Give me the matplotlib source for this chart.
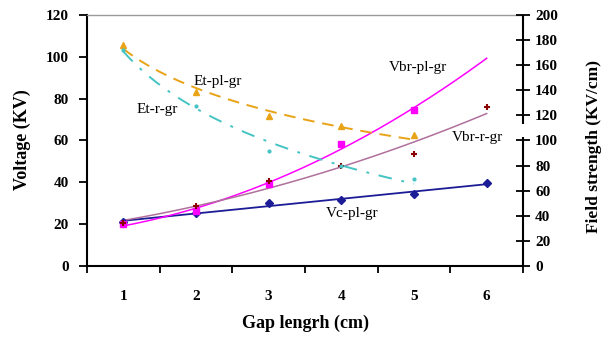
import numpy as np
import matplotlib
matplotlib.use("Agg")
import matplotlib.pyplot as plt

plt.rcParams['font.family'] = ['Liberation Serif', 'DejaVu Serif']

# Gap length categories (cm)
gaps = [1, 2, 3, 4, 5, 6]

# Voltages (kV) - left axis
vc_pl_gr = [21.0, 25.3, 30.3, 31.5, 34.2, 39.9]
vbr_pl_gr = [20.0, 26.3, 39.0, 58.5, 74.6]
vbr_r_gr = [20.7, 28.7, 40.6, 47.8, 53.5, 75.9]

# Field strengths (kV/cm) - right axis
et_pl_gr = [176.0, 138.5, 119.5, 111.6, 104.0]
et_r_gr = [172.0, 127.5, 92.0, 80.0, 69.5]

left_ticks = [0, 20, 40, 60, 80, 100, 120]
right_ticks = [0, 20, 40, 60, 80, 100, 120, 140, 160, 180, 200]

fig = plt.figure(figsize=(6.05, 3.39), dpi=100)
ax = fig.add_axes([0.1438, 0.2153, 0.8645 - 0.1438, 0.9558 - 0.2153])
ax2 = ax.twinx()

navy = '#1c1c96'
magenta = '#ff00ff'
mauve = '#b0709c'
darkred = '#8b0000'
orange = '#e8a317'
cyan = '#45c4c4'

xs6 = np.array(gaps, dtype=float)
xs5 = xs6[:5]
xfit = np.linspace(1, 6, 200)
xfit5 = np.linspace(1, 5, 200)

# Vc-pl-gr: linear trend
c = np.polyfit(xs6, vc_pl_gr, 1)
ax.plot(xfit, np.polyval(c, xfit), color=navy, lw=1.3, zorder=3)
ax.plot(xs6, vc_pl_gr, 'D', color=navy, ms=4, zorder=5)

# Vbr-pl-gr: second-order trend
c = np.polyfit(xs5, vbr_pl_gr, 2)
ax.plot(xfit, np.polyval(c, xfit), color=magenta, lw=1.1, zorder=3)
ax.plot(xs5, vbr_pl_gr, 's', color=magenta, ms=4, zorder=5)

# Vbr-r-gr: second-order trend
c = np.polyfit(xs6, vbr_r_gr, 2)
ax.plot(xfit, np.polyval(c, xfit), color=mauve, lw=1.1, zorder=3)
ax.plot(xs6, vbr_r_gr, '+', color=darkred, ms=5, mew=1.5, zorder=5)

# Et-pl-gr: logarithmic trend
c = np.polyfit(np.log(xs5), et_pl_gr, 1)
ax2.plot(xfit5, np.polyval(c, np.log(xfit5)), color=orange, lw=1.4,
         ls=(0, (6, 4)), zorder=3)
ax2.plot(xs5, et_pl_gr, '^', color=orange, ms=4.5, zorder=5)

# Et-r-gr: logarithmic trend
c = np.polyfit(np.log(xs5), et_r_gr, 1)
ax2.plot(xfit5, np.polyval(c, np.log(xfit5)), color=cyan, lw=1.4,
         ls=(0, (7, 5, 1.5, 5)), zorder=3)
ax2.plot(xs5, et_r_gr, '.', color=cyan, ms=4, zorder=5)

# Axes limits and ticks
ax.set_xlim(0.5, 6.5)
ax.set_ylim(0, 120)
ax2.set_ylim(0, 200)
ax.set_xticks(np.arange(0.5, 7.0, 1.0))
ax.set_xticklabels([])
ax.set_xticks(gaps, minor=True)
ax.set_xticklabels([str(g) for g in gaps], minor=True)
ax.set_yticks(left_ticks)
ax2.set_yticks(right_ticks)

for lab in ax.get_yticklabels() + ax.get_xticklabels(minor=True) + ax2.get_yticklabels():
    lab.set_fontsize(11)
    lab.set_fontweight('bold')

ax.tick_params(axis='x', which='major', direction='out', length=5, width=1.3)
ax.tick_params(axis='x', which='minor', length=0, pad=17)
ax.tick_params(axis='y', direction='out', length=6, width=1.3, pad=7)
ax2.tick_params(axis='y', direction='inout', length=9.5, width=1.3, pad=4)

# Spines
for s in ('left', 'bottom'):
    ax.spines[s].set_linewidth(1.5)
ax.spines['top'].set_color('#9a9a9a')
ax.spines['top'].set_linewidth(1.0)
ax.spines['right'].set_visible(False)
for s in ('left', 'bottom', 'top', 'right'):
    ax2.spines[s].set_visible(False)
ytr = ax2.get_yaxis_transform()
ax2.plot([1, 1], [0, 102.5], transform=ytr, color='black', lw=1.5,
         clip_on=False, zorder=6, solid_capstyle='butt')
ax2.plot([1, 1], [113.5, 200], transform=ytr, color='black', lw=1.5,
         clip_on=False, zorder=6, solid_capstyle='butt')

# Series labels
lab_kw = dict(fontsize=11, ha='center', va='center', color='black', zorder=7)
ax.text(2.30, 88.0, 'Et-pl-gr', **lab_kw)
ax.text(1.46, 75.0, 'Et-r-gr', **lab_kw)
ax.text(5.05, 95.1, 'Vbr-pl-gr', **lab_kw)
ax.text(5.87, 61.2, 'Vbr-r-gr', **lab_kw)
ax.text(4.15, 25.3, 'Vc-pl-gr', **lab_kw)

# Axis titles
fig.text(22 / 605, 1 - 140 / 339, 'Voltage (KV)', rotation=90, ha='center',
         va='center', fontsize=13, fontweight='bold')
fig.text(594 / 605, 1 - 146 / 339, 'Field strength (KV/cm)', rotation=90,
         ha='center', va='center', fontsize=12.5, fontweight='bold')
fig.text(305 / 605, 1 - 323 / 339, 'Gap lengrh (cm)', ha='center',
         va='center', fontsize=13, fontweight='bold')

fig.savefig('out.png', dpi=100)
